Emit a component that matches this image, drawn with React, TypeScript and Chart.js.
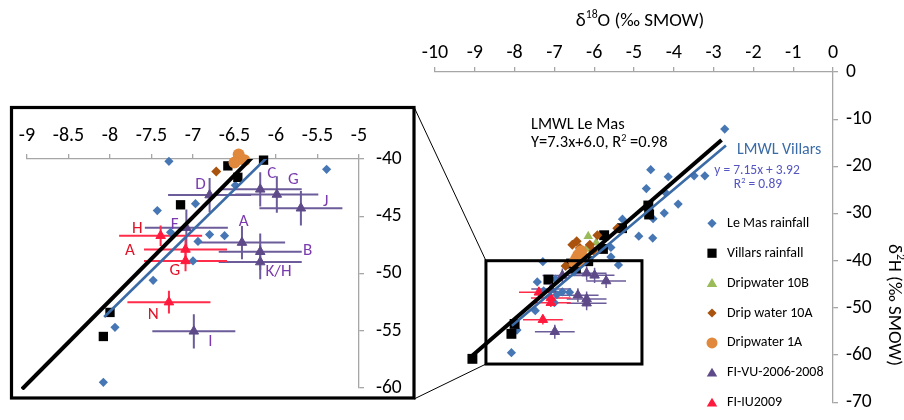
import React, { useEffect, useRef } from 'react';
import { Chart, registerables } from 'chart.js';

Chart.register(...registerables);

const FONT = 'Carlito, Lato, "DejaVu Sans", sans-serif';

// ---------------- data (δ18O, δ2H) ----------------
const LE_MAS_X = [-2.72, -4.58, -4.14, -3.49, -3.22, -4.69, -4.23, -3.89, -4.24, -4.52, -5.29, -4.88, -4.53, -5.58, -5.58, -5.39, -7.29, -6.49, -6.97, -7.43, -7.27, -6.80, -6.62, -6.94, -7.00, -7.48, -7.94, -8.08];
const LE_MAS_Y = [-12.1, -20.7, -22.2, -22.0, -22.0, -24.7, -25.4, -28.0, -29.9, -31.1, -31.2, -34.8, -35.2, -37.2, -39.2, -40.9, -40.2, -42.3, -43.9, -44.5, -46.4, -46.6, -46.7, -47.2, -48.9, -50.6, -54.7, -59.5];

const VILLARS_X = [-4.64, -4.62, -5.30, -5.75, -5.78, -6.15, -6.58, -6.46, -7.15, -8.00, -8.08, -9.06];
const VILLARS_Y = [-28.3, -30.2, -33.1, -34.6, -37.5, -40.1, -40.6, -41.6, -44.0, -53.4, -55.5, -60.8];

const DRIP_10B_X = [-6.15, -5.95, -6.20];
const DRIP_10B_Y = [-34.8, -36.2, -37.5];

const DRIP_10A_X = [-5.42, -5.92, -6.44, -6.11, -6.36, -6.55, -6.02, -6.72];
const DRIP_10A_Y = [-33.1, -34.6, -35.9, -36.6, -37.3, -36.6, -37.9, -41.1];

const DRIP_1A_X = [-6.33, -6.40, -6.45, -6.50, -6.38, -6.30];
const DRIP_1A_Y = [-38.0, -38.8, -39.6, -40.3, -40.1, -39.2];

const FI_VU_LABELS = ['A', 'B', 'C', 'D', 'F', 'G', 'I', 'J', 'K/H'];
const FI_VU_X = [-6.41, -6.19, -6.19, -6.80, -7.08, -5.99, -6.99, -5.70, -6.19];
const FI_VU_Y = [-47.3, -48.1, -42.65, -43.15, -46.0, -43.1, -55.05, -44.3, -49.0];
const FI_VU_XERR = [0.52, 0.5, 0.5, 0.5, 0.5, 0.5, 0.5, 0.5, 0.5];
const FI_VU_YERR = [1.45, 1.6, 1.5, 1.5, 1.6, 1.6, 1.5, 1.5, 1.5];
const FI_VU_LABEL_X = [-6.39, -5.62, -6.05, -6.91, -7.22, -5.79, -6.79, -5.40, -5.97];
const FI_VU_LABEL_Y = [-45.49, -48.05, -41.25, -42.27, -45.77, -41.84, -55.98, -43.74, -49.86];

const FI_IU_LABELS = ['H', 'A', 'G', 'N'];
const FI_IU_X = [-7.39, -7.09, -7.09, -7.29];
const FI_IU_Y = [-46.7, -47.9, -48.9, -52.5];
const FI_IU_XERR = [0.5, 0.5, 0.5, 0.5];
const FI_IU_YERR = [0.9, 0.9, 0.9, 1.0];
const FI_IU_LABEL_X = [-7.67, -7.76, -7.22, -7.48];
const FI_IU_LABEL_Y = [-46.06, -48.05, -49.80, -53.56];

const LMWL_LEMAS_X = [-9.06, -2.80];
const LMWL_LEMAS_Y = [-60.1, -14.4];
const LMWL_VILLARS_X = [-8.07, -2.69];
const LMWL_VILLARS_Y = [-53.8, -15.6];

const MAIN_X_TICKS = [-10, -9, -8, -7, -6, -5, -4, -3, -2, -1, 0];
const MAIN_Y_TICKS = [0, -10, -20, -30, -40, -50, -60, -70];
const INSET_X_TICKS = [-9, -8.5, -8, -7.5, -7, -6.5, -6, -5.5, -5];
const INSET_Y_TICKS = [-40, -45, -50, -55, -60];

const ZOOM_BOX_X = [-8.72, -4.8];
const ZOOM_BOX_Y = [-40, -61.9];

const LEGEND_LABELS = ['Le Mas rainfall', 'Villars rainfall', 'Dripwater 10B', 'Drip water 10A', 'Dripwater 1A', 'FI-VU-2006-2008', 'FI-IU2009'];

// ---------------- styles ----------------
const C = {
  leMas: '#4677B4',
  villars: '#000000',
  d10B: '#9BBB59',
  d10A: '#A9530F',
  d1A: '#E0883C',
  fiVu: '#5E4A89',
  fiVuBar: '#6C5C99',
  fiIu: '#FF1A3D',
  fiIuBar: '#FF2C4A',
  villarsLine: '#3A6BA6',
  labelPurple: '#7A3BAE',
  labelRed: '#E0142A',
  axis: '#A6A6A6',
};
const LEGEND_SHAPES = ['diamond', 'square', 'triangle', 'diamond', 'circle', 'triangle', 'triangle'];
const LEGEND_COLORS = [C.leMas, C.villars, C.d10B, C.d10A, C.d1A, C.fiVu, C.fiIu];

const pts = (xs: number[], ys: number[]) => xs.map((x, i) => ({ x, y: ys[i] }));

type Seg = { t: string; sup?: boolean };
function drawRich(ctx: CanvasRenderingContext2D, segs: Seg[], x: number, y: number, size: number, color: string, align: 'left' | 'center', rotate = 0) {
  ctx.save();
  ctx.translate(x, y);
  if (rotate) ctx.rotate(rotate);
  ctx.fillStyle = color;
  ctx.textBaseline = 'middle';
  ctx.textAlign = 'left';
  const sup = size * 0.62;
  const widths = segs.map((s) => {
    ctx.font = `${s.sup ? sup : size}px ${FONT}`;
    return ctx.measureText(s.t).width;
  });
  const total = widths.reduce((a, b) => a + b, 0);
  let cx = align === 'center' ? -total / 2 : 0;
  segs.forEach((s, i) => {
    ctx.font = `${s.sup ? sup : size}px ${FONT}`;
    ctx.fillText(s.t, cx, s.sup ? -size * 0.3 : 0);
    cx += widths[i];
  });
  ctx.restore();
}

function drawMarker(ctx: CanvasRenderingContext2D, shape: string, x: number, y: number, r: number, color: string) {
  ctx.fillStyle = color;
  ctx.beginPath();
  if (shape === 'diamond') {
    ctx.moveTo(x, y - r); ctx.lineTo(x + r, y); ctx.lineTo(x, y + r); ctx.lineTo(x - r, y);
  } else if (shape === 'square') {
    ctx.rect(x - r, y - r, 2 * r, 2 * r);
  } else if (shape === 'triangle') {
    ctx.moveTo(x, y - r); ctx.lineTo(x + r * 0.95, y + r * 0.6); ctx.lineTo(x - r * 0.95, y + r * 0.6);
  } else {
    ctx.arc(x, y, r, 0, Math.PI * 2);
  }
  ctx.closePath();
  ctx.fill();
}

function errorBars(id: string, width: number) {
  const sets = [
    { xs: FI_VU_X, ys: FI_VU_Y, xe: FI_VU_XERR, ye: FI_VU_YERR, color: C.fiVuBar },
    { xs: FI_IU_X, ys: FI_IU_Y, xe: FI_IU_XERR, ye: FI_IU_YERR, color: C.fiIuBar },
  ];
  return {
    id,
    beforeDatasetsDraw(chart: any) {
      const { ctx, chartArea: a } = chart;
      const sx = chart.scales.x, sy = chart.scales.y;
      ctx.save();
      ctx.beginPath();
      ctx.rect(a.left, a.top, a.right - a.left, a.bottom - a.top);
      ctx.clip();
      ctx.lineWidth = width;
      sets.forEach((s) => {
        ctx.strokeStyle = s.color;
        s.xs.forEach((vx, i) => {
          const vy = s.ys[i];
          const px = sx.getPixelForValue(vx), py = sy.getPixelForValue(vy);
          ctx.beginPath();
          ctx.moveTo(sx.getPixelForValue(vx - s.xe[i]), py);
          ctx.lineTo(sx.getPixelForValue(vx + s.xe[i]), py);
          ctx.moveTo(px, sy.getPixelForValue(vy - s.ye[i]));
          ctx.lineTo(px, sy.getPixelForValue(vy + s.ye[i]));
          ctx.stroke();
        });
      });
      ctx.restore();
    },
  };
}

function datasets(big: boolean) {
  const lineClip = big ? false : { left: 6, top: 0, right: 0, bottom: 2 };
  return [
    { label: 'LMWL Le Mas', data: pts(LMWL_LEMAS_X, LMWL_LEMAS_Y), showLine: true, borderColor: '#000', borderWidth: 4, pointRadius: 0, clip: lineClip as any },
    { label: 'LMWL Villars', data: pts(LMWL_VILLARS_X, LMWL_VILLARS_Y), showLine: true, borderColor: C.villarsLine, borderWidth: 2.6, pointRadius: 0, clip: lineClip as any },
    { label: 'FI-IU2009', data: pts(FI_IU_X, FI_IU_Y), pointStyle: 'triangle', pointRadius: 5.5, backgroundColor: C.fiIu, borderColor: C.fiIu, borderWidth: 1, clip: false as any },
    { label: 'FI-VU-2006-2008', data: pts(FI_VU_X, FI_VU_Y), pointStyle: 'triangle', pointRadius: 5.5, backgroundColor: C.fiVu, borderColor: C.fiVu, borderWidth: 1, clip: false as any },
    { label: 'Dripwater 1A', data: pts(DRIP_1A_X, DRIP_1A_Y), pointStyle: 'circle', pointRadius: 6, backgroundColor: C.d1A, borderColor: C.d1A, borderWidth: 0, clip: false as any },
    { label: 'Drip water 10A', data: pts(DRIP_10A_X, DRIP_10A_Y), pointStyle: 'rectRot', pointRadius: 5, backgroundColor: C.d10A, borderColor: C.d10A, borderWidth: 0, clip: false as any },
    { label: 'Dripwater 10B', data: pts(DRIP_10B_X, DRIP_10B_Y), pointStyle: 'triangle', pointRadius: 5.5, backgroundColor: C.d10B, borderColor: C.d10B, borderWidth: 0, clip: false as any },
    { label: 'Villars rainfall', data: pts(VILLARS_X, VILLARS_Y), pointStyle: 'rect', pointRadius: big ? 7 : 6.6, backgroundColor: C.villars, borderColor: C.villars, borderWidth: 0, clip: false as any },
    { label: 'Le Mas rainfall', data: pts(LE_MAS_X, LE_MAS_Y), pointStyle: 'rectRot', pointRadius: 4.6, backgroundColor: C.leMas, borderColor: C.leMas, borderWidth: 0, clip: false as any },
  ];
}

function axisCommon(size: number, pad: number) {
  return {
    type: 'linear' as const,
    grid: { display: true, drawOnChartArea: false, drawTicks: true, tickLength: 5, color: C.axis, lineWidth: 1.3 },
    border: { display: true, color: C.axis, width: 1.3 },
    ticks: { color: '#000', font: { family: FONT, size, lineHeight: 1 }, padding: pad, maxRotation: 0, autoSkip: false, callback: (v: any) => String(v) },
  };
}

const mainPlugin = {
  id: 'mainDecor',
  afterDraw(chart: any) {
    const { ctx } = chart;
    const sx = chart.scales.x, sy = chart.scales.y;
    // zoom box
    const x0 = sx.getPixelForValue(ZOOM_BOX_X[0]), x1 = sx.getPixelForValue(ZOOM_BOX_X[1]);
    const y0 = sy.getPixelForValue(ZOOM_BOX_Y[0]), y1 = sy.getPixelForValue(ZOOM_BOX_Y[1]);
    ctx.save();
    ctx.strokeStyle = '#000';
    ctx.lineWidth = 3;
    ctx.strokeRect(x0, y0, x1 - x0, y1 - y0);
    ctx.lineWidth = 1;
    ctx.beginPath();
    ctx.moveTo(414, 107); ctx.lineTo(x0, y0);
    ctx.moveTo(414, 399); ctx.lineTo(x0, y1);
    ctx.stroke();
    ctx.restore();
    // titles
    drawRich(ctx, [{ t: 'δ' }, { t: '18', sup: true }, { t: 'O (‰ SMOW)' }], 640, 21, 19, '#000', 'center');
    drawRich(ctx, [{ t: 'δ' }, { t: '2', sup: true }, { t: 'H (‰ SMOW)' }], 894, 305, 19, '#000', 'center', Math.PI / 2);
    // annotations
    drawRich(ctx, [{ t: 'LMWL Le Mas' }], 531, 125, 16.5, '#000', 'left');
    drawRich(ctx, [{ t: 'Y=7.3x+6.0, R' }, { t: '2', sup: true }, { t: ' =0.98' }], 531, 143, 16.5, '#000', 'left');
    drawRich(ctx, [{ t: 'LMWL Villars' }], 737, 150, 16, C.villarsLine, 'left');
    drawRich(ctx, [{ t: 'y = 7.15x + 3.92' }], 757, 171, 13.5, '#5455C0', 'center');
    drawRich(ctx, [{ t: 'R' }, { t: '2', sup: true }, { t: ' = 0.89' }], 758, 185, 13.5, '#5455C0', 'center');
    // legend
    LEGEND_LABELS.forEach((lab, i) => {
      const y = 223.3 + i * 29.9;
      const shape = LEGEND_SHAPES[i];
      const r = shape === 'circle' ? 5.5 : shape === 'triangle' ? 5.5 : 4.6;
      drawMarker(ctx, shape, 712, shape === 'triangle' ? y + 0.5 : y, r, LEGEND_COLORS[i]);
      drawRich(ctx, [{ t: lab }], 727, y, 14, '#000', 'left');
    });
  },
};

const insetPlugin = {
  id: 'insetDecor',
  afterDraw(chart: any) {
    const { ctx } = chart;
    const sx = chart.scales.x, sy = chart.scales.y;
    ctx.save();
    ctx.strokeStyle = '#000';
    ctx.lineWidth = 3.2;
    ctx.strokeRect(11.5, 107.5, 402.5, 290.5);
    ctx.restore();
    FI_VU_LABELS.forEach((lab, i) => {
      drawRich(ctx, [{ t: lab }], sx.getPixelForValue(FI_VU_LABEL_X[i]), sy.getPixelForValue(FI_VU_LABEL_Y[i]), 17, C.labelPurple, 'center');
    });
    FI_IU_LABELS.forEach((lab, i) => {
      drawRich(ctx, [{ t: lab }], sx.getPixelForValue(FI_IU_LABEL_X[i]), sy.getPixelForValue(FI_IU_LABEL_Y[i]), 17, C.labelRed, 'center');
    });
  },
};

export default function App() {
  const mainRef = useRef<HTMLCanvasElement>(null);
  const insetRef = useRef<HTMLCanvasElement>(null);

  useEffect(() => {
    const main = new Chart(mainRef.current as HTMLCanvasElement, {
      type: 'scatter',
      data: { datasets: datasets(true) as any },
      options: {
        animation: false,
        responsive: false,
        maintainAspectRatio: false,
        events: [],
        layout: { padding: { left: 435, right: 0, top: 0, bottom: 10 } },
        plugins: { legend: { display: false }, tooltip: { enabled: false } },
        scales: {
          x: {
            ...axisCommon(20, 4),
            position: 'top',
            min: -10,
            max: 0,
            afterBuildTicks: (s: any) => { s.ticks = MAIN_X_TICKS.map((v) => ({ value: v })); },
            afterFit: (s: any) => { s.height = 72; },
          },
          y: {
            ...axisCommon(19.5, 8),
            position: 'right',
            min: -70,
            max: 0,
            afterBuildTicks: (s: any) => { s.ticks = MAIN_Y_TICKS.map((v) => ({ value: v })); },
            afterFit: (s: any) => { s.width = 71; },
          },
        } as any,
      },
      plugins: [errorBars('mainErr', 1.5), mainPlugin],
    });

    const inset = new Chart(insetRef.current as HTMLCanvasElement, {
      type: 'scatter',
      data: { datasets: datasets(false) as any },
      options: {
        animation: false,
        responsive: false,
        maintainAspectRatio: false,
        events: [],
        layout: { padding: { left: 27, right: 0, top: 0, bottom: 32 } },
        plugins: { legend: { display: false }, tooltip: { enabled: false } },
        scales: {
          x: {
            ...axisCommon(20, 8),
            position: 'top',
            min: -9,
            max: -5,
            afterBuildTicks: (s: any) => { s.ticks = INSET_X_TICKS.map((v) => ({ value: v })); },
            afterFit: (s: any) => { s.height = 159; },
          },
          y: {
            ...axisCommon(19.5, 12),
            position: 'right',
            min: -60,
            max: -40,
            afterBuildTicks: (s: any) => { s.ticks = INSET_Y_TICKS.map((v) => ({ value: v })); },
            afterFit: (s: any) => { s.width = 61; },
          },
        } as any,
      },
      plugins: [errorBars('insetErr', 2), insetPlugin],
    });

    return () => {
      main.destroy();
      inset.destroy();
    };
  }, []);

  return (
    <div style={{ position: 'fixed', left: 0, top: 0, width: 904, height: 420, background: '#fff' }}>
      <canvas ref={mainRef} width={904} height={420} style={{ position: 'absolute', left: 0, top: 0, width: 904, height: 420 }} />
      <canvas ref={insetRef} width={420} height={420} style={{ position: 'absolute', left: 0, top: 0, width: 420, height: 420 }} />
    </div>
  );
}
